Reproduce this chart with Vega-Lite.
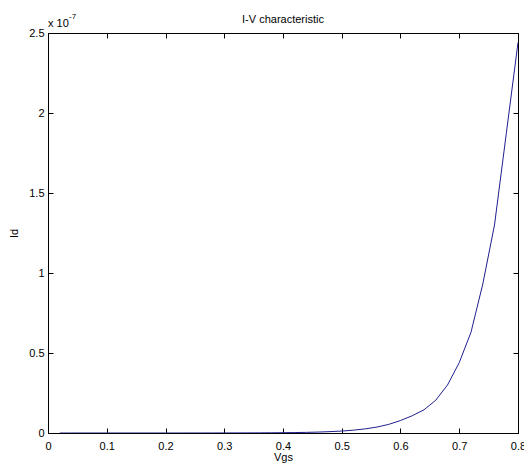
{
  "$schema": "https://vega.github.io/schema/vega-lite/v6.json",
  "width": 470,
  "height": 400,
  "autosize": {"type": "none"},
  "padding": {"left": 48, "top": 33, "right": 6, "bottom": 35},
  "background": "white",
  "config": {
    "view": {"stroke": "black", "strokeWidth": 1},
    "font": "Liberation Sans",
    "axis": {
      "grid": false,
      "domainColor": "black",
      "tickColor": "black",
      "tickSize": -5,
      "labelColor": "black",
      "labelFont": "Liberation Sans",
      "labelFontSize": 11,
      "titleFont": "Liberation Sans",
      "titleFontSize": 11,
      "titleFontWeight": "normal",
      "titleColor": "black"
    }
  },
  "title": {
    "text": "I-V characteristic",
    "font": "Liberation Sans",
    "fontSize": 11,
    "fontWeight": "normal",
    "color": "black",
    "offset": -12
  },
  "data": {
    "values": [
      {"Vgs": 0.02, "Id": 0.0000017},
      {"Vgs": 0.04, "Id": 0.0000025},
      {"Vgs": 0.06, "Id": 0.0000036},
      {"Vgs": 0.08, "Id": 0.0000052},
      {"Vgs": 0.10, "Id": 0.0000075},
      {"Vgs": 0.12, "Id": 0.000011},
      {"Vgs": 0.14, "Id": 0.000016},
      {"Vgs": 0.16, "Id": 0.000023},
      {"Vgs": 0.18, "Id": 0.000033},
      {"Vgs": 0.20, "Id": 0.00005},
      {"Vgs": 0.22, "Id": 0.00007},
      {"Vgs": 0.24, "Id": 0.0001},
      {"Vgs": 0.26, "Id": 0.00014},
      {"Vgs": 0.28, "Id": 0.0002},
      {"Vgs": 0.30, "Id": 0.0003},
      {"Vgs": 0.32, "Id": 0.00043},
      {"Vgs": 0.34, "Id": 0.00062},
      {"Vgs": 0.36, "Id": 0.0009},
      {"Vgs": 0.38, "Id": 0.0013},
      {"Vgs": 0.40, "Id": 0.0019},
      {"Vgs": 0.42, "Id": 0.0028},
      {"Vgs": 0.44, "Id": 0.004},
      {"Vgs": 0.46, "Id": 0.0058},
      {"Vgs": 0.48, "Id": 0.0085},
      {"Vgs": 0.50, "Id": 0.0122},
      {"Vgs": 0.52, "Id": 0.0177},
      {"Vgs": 0.54, "Id": 0.0257},
      {"Vgs": 0.56, "Id": 0.0372},
      {"Vgs": 0.58, "Id": 0.054},
      {"Vgs": 0.60, "Id": 0.078},
      {"Vgs": 0.62, "Id": 0.108},
      {"Vgs": 0.64, "Id": 0.145},
      {"Vgs": 0.66, "Id": 0.205},
      {"Vgs": 0.68, "Id": 0.3},
      {"Vgs": 0.70, "Id": 0.44},
      {"Vgs": 0.72, "Id": 0.63},
      {"Vgs": 0.74, "Id": 0.93},
      {"Vgs": 0.76, "Id": 1.3},
      {"Vgs": 0.78, "Id": 1.87},
      {"Vgs": 0.80, "Id": 2.44}
    ]
  },
  "layer": [
    {
      "mark": {"type": "line", "color": "#1f1f8f", "strokeWidth": 1, "clip": true},
      "encoding": {
        "x": {
          "field": "Vgs",
          "type": "quantitative",
          "scale": {"domain": [0, 0.8], "nice": false, "zero": false},
          "axis": {
            "orient": "bottom",
            "values": [0, 0.1, 0.2, 0.3, 0.4, 0.5, 0.6, 0.7, 0.8],
            "format": "~g",
            "labelPadding": 12,
            "title": "Vgs",
            "titlePadding": 0,
            "labelFlush": false,
            "labelOverlap": false
          }
        },
        "y": {
          "field": "Id",
          "type": "quantitative",
          "scale": {"domain": [0, 2.5], "nice": false},
          "axis": {
            "orient": "left",
            "values": [0, 0.5, 1, 1.5, 2, 2.5],
            "format": "~g",
            "labelPadding": 9,
            "title": "Id",
            "titlePadding": 9,
            "labelFlush": false,
            "labelOverlap": false
          }
        }
      }
    },
    {
      "mark": {"type": "line", "opacity": 0},
      "encoding": {
        "x": {
          "field": "Vgs",
          "type": "quantitative",
          "axis": {
            "orient": "top",
            "values": [0, 0.1, 0.2, 0.3, 0.4, 0.5, 0.6, 0.7, 0.8],
            "labels": false,
            "title": null,
            "minExtent": 0,
            "maxExtent": 0
          }
        },
        "y": {
          "field": "Id",
          "type": "quantitative",
          "axis": {
            "orient": "right",
            "values": [0, 0.5, 1, 1.5, 2, 2.5],
            "labels": false,
            "title": null,
            "minExtent": 0,
            "maxExtent": 0
          }
        }
      }
    },
    {
      "data": {"values": [{}]},
      "mark": {"type": "text", "text": "x 10", "align": "left", "baseline": "alphabetic", "dy": -6, "fontSize": 11, "color": "black", "font": "Liberation Sans"},
      "encoding": {
        "x": {"datum": 0, "type": "quantitative", "axis": null},
        "y": {"datum": 2.5, "type": "quantitative", "axis": null}
      }
    },
    {
      "data": {"values": [{}]},
      "mark": {"type": "text", "text": "-7", "align": "left", "baseline": "alphabetic", "dx": 21, "dy": -14, "fontSize": 8, "color": "black", "font": "Liberation Sans"},
      "encoding": {
        "x": {"datum": 0, "type": "quantitative", "axis": null},
        "y": {"datum": 2.5, "type": "quantitative", "axis": null}
      }
    }
  ],
  "resolve": {"axis": {"x": "independent", "y": "independent"}}
}
